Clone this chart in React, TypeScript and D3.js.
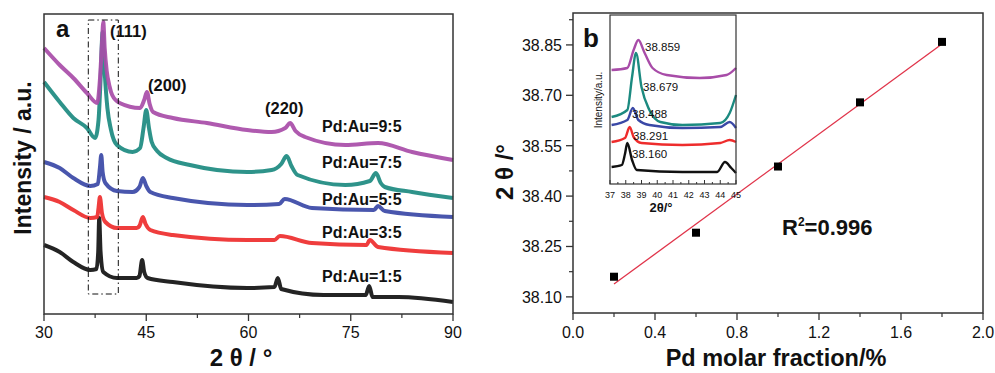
import React from "react";
import * as d3 from "d3";

// panel a: XRD patterns, [2theta, intensity a.u.]
const pd15 = [
  [30, 69], [32.3, 62], [34.3, 52], [36.8, 44], [37.7, 45], [37.95, 62], [38.1, 96], [38.3, 62],
  [38.7, 42], [40.7, 36], [43.6, 36], [44.0, 38], [44.4, 54], [44.7, 42], [45.2, 36], [48.9, 32],
  [59.8, 26], [63.8, 27], [64.3, 36], [64.8, 25], [71.0, 19], [77.2, 19], [77.7, 28], [78.2, 17],
  [82, 17], [90, 12],
];
const pd35 = [
  [30, 117], [32.3, 112], [34.3, 104], [36.8, 96], [37.8, 97], [38.0, 106], [38.2, 117],
  [38.5, 101], [39.0, 92], [40.7, 86], [43.6, 86], [44.0, 88], [44.5, 97], [44.9, 90], [45.6, 84],
  [48.9, 79], [59.8, 74], [63.8, 74], [64.6, 78], [69.3, 71], [77.3, 69], [77.8, 74], [79.0, 67],
  [90, 61],
];
const pd55 = [
  [30, 152], [32.3, 146], [34.3, 136], [36.8, 128], [37.9, 130], [38.2, 146], [38.4, 159],
  [38.6, 142], [39.0, 131], [40.7, 123], [43.0, 122], [44.0, 127], [44.5, 136], [45.0, 128],
  [45.6, 122], [48.9, 116], [59.8, 109], [64.5, 110], [65.3, 115], [69.3, 106], [78.4, 104],
  [79.0, 108], [80.0, 103], [90, 97],
];
const pd75 = [
  [30, 232], [32.3, 212], [34.3, 196], [36.3, 186], [37.5, 176], [38.0, 194], [38.3, 235],
  [38.6, 282], [38.9, 242], [39.3, 206], [39.8, 185], [40.7, 169], [43.0, 162], [44.1, 166],
  [44.6, 186], [45.0, 204], [45.4, 186], [45.8, 172], [46.6, 163], [48.0, 156], [51.4, 149],
  [59.8, 142], [63.4, 144], [64.8, 150], [65.6, 158], [66.3, 148], [67.2, 139], [74.2, 129],
  [77.8, 133], [78.7, 141], [79.4, 131], [80.0, 127], [84.0, 122], [90, 116],
];
const pd95 = [
  [30, 266], [32.3, 249], [34.3, 236], [36.3, 221], [37.8, 211], [38.2, 234], [38.5, 270],
  [38.7, 292], [38.9, 266], [39.2, 243], [39.6, 228], [40.0, 219], [41.1, 211], [44.1, 206],
  [44.7, 214], [45.1, 222], [45.5, 210], [46.0, 202], [48.9, 196], [53.9, 191], [59.8, 184],
  [63.4, 182], [65.4, 186], [66.1, 191], [66.9, 183], [68.3, 177], [74.2, 169], [79.0, 171],
  [84.0, 162], [90, 154],
];
const seriesA = [
  { label: "Pd:Au=1:5", color: "#111111", data: pd15 },
  { label: "Pd:Au=3:5", color: "#ee2c2c", data: pd35 },
  { label: "Pd:Au=5:5", color: "#3a48a6", data: pd55 },
  { label: "Pd:Au=7:5", color: "#1c8a80", data: pd75 },
  { label: "Pd:Au=9:5", color: "#a84ca8", data: pd95 },
];
const labelBaselines = [282, 238, 205, 168, 132];
const ticksA = [30, 45, 60, 75, 90];
const boxTheta = [36.5, 40.9];
const boxIntensity = [20, 294];

// panel b: peak position vs Pd fraction
const fraction = [0.2, 0.6, 1.0, 1.4, 1.8];
const peak111 = [38.16, 38.291, 38.488, 38.679, 38.859];
const ticksBx = [0, 0.4, 0.8, 1.2, 1.6, 2.0];
const ticksBy = [38.1, 38.25, 38.4, 38.55, 38.7, 38.85];

// inset: zoom around (111), [2theta, intensity]
const in15 = [[37.1, 17], [37.75, 19], [37.95, 30], [38.1, 41], [38.4, 24], [38.7, 14], [41.6, 12], [43.8, 12], [44.3, 22], [44.7, 16], [45, 11]];
const in35 = [[37.1, 42], [37.95, 46], [38.25, 57], [38.5, 47], [39.0, 41], [41.6, 39], [44.0, 41], [44.6, 44], [45, 42]];
const in55 = [[37.1, 59], [38.1, 64], [38.45, 76], [38.8, 64], [39.5, 59], [41.6, 56], [44.0, 57], [44.6, 62], [45, 56]];
const in75 = [[37.1, 67], [38.1, 74], [38.4, 107], [38.65, 131], [39.0, 97], [39.5, 74], [40.2, 62], [41.6, 59], [44.0, 61], [44.6, 71], [45, 89]];
const in95 = [[37.1, 114], [38.1, 116], [38.5, 134], [38.8, 144], [39.2, 131], [39.7, 116], [40.6, 109], [42.7, 106], [44.4, 109], [45, 116]];
const insetSeries = [in15, in35, in55, in75, in95];
const insetLabels = ["38.160", "38.291", "38.488", "38.679", "38.859"];
const insetLabelPos = [[632, 158], [633, 140], [632, 118], [643, 91], [645, 51]];
const ticksIn = [37, 38, 39, 40, 41, 42, 43, 44, 45];

const FONT = "'Liberation Sans', Arial, Helvetica, sans-serif";
const AXIS = "#333";

export default function App() {
  const xA = d3.scaleLinear().domain([30, 90]).range([44, 453]);
  const yA = d3.scaleLinear().domain([0, 300]).range([314, 14]);
  const lineA = d3
    .line<number[]>()
    .x((d) => xA(d[0]))
    .y((d) => yA(d[1]))
    .curve(d3.curveMonotoneX);

  const xB = d3.scaleLinear().domain([0, 2]).range([573, 983]);
  const yB = d3.scaleLinear().domain([38.052, 38.945]).range([313, 13]);

  const xI = d3.scaleLinear().domain([37, 45]).range([610, 736]);
  const yI = d3.scaleLinear().domain([0, 169]).range([184, 15]);
  const lineI = d3
    .line<number[]>()
    .x((d) => xI(d[0]))
    .y((d) => yI(d[1]))
    .curve(d3.curveMonotoneX);

  // least squares fit for panel b
  const mx = d3.mean(fraction)!;
  const my = d3.mean(peak111)!;
  const slope =
    d3.sum(fraction, (x, i) => (x - mx) * (peak111[i] - my)) /
    d3.sum(fraction, (x) => (x - mx) ** 2);
  const fit = (x: number) => my + slope * (x - mx);

  const minorA = d3.range(30, 90.1, 7.5).filter((v) => v % 15 !== 0);
  const minorBx = d3.range(0.2, 2, 0.4);
  const minorBy = [38.175, 38.325, 38.475, 38.625, 38.775, 38.925];
  const minorIn = d3.range(37.5, 45, 1);

  return (
    <div style={{ position: "absolute", left: 0, top: 0 }}>
      <svg width={995} height={373} style={{ display: "block", background: "#fff" }} fontFamily={FONT}>
        {/* ---------- panel a ---------- */}
        {seriesA.map((s) => (
          <path
            key={s.label}
            d={lineA(s.data)!}
            fill="none"
            stroke={s.color}
            strokeWidth={4}
            strokeLinejoin="round"
            opacity={0.92}
          />
        ))}
        <rect
          x={xA(boxTheta[0])}
          y={yA(boxIntensity[1])}
          width={xA(boxTheta[1]) - xA(boxTheta[0])}
          height={yA(boxIntensity[0]) - yA(boxIntensity[1])}
          fill="none"
          stroke="#111"
          strokeWidth={1}
          strokeDasharray="6,3,1.5,3"
        />
        <rect x={44} y={14} width={409} height={300} fill="none" stroke={AXIS} strokeWidth={1.5} />
        {ticksA.map((t) => (
          <g key={t}>
            <line x1={xA(t)} x2={xA(t)} y1={314} y2={321} stroke={AXIS} strokeWidth={1.3} />
            <text x={xA(t)} y={338} textAnchor="middle" fontSize={16} fill="#111">{t}</text>
          </g>
        ))}
        {minorA.map((t) => (
          <line key={t} x1={xA(t)} x2={xA(t)} y1={314} y2={318} stroke={AXIS} strokeWidth={1.2} />
        ))}
        <text x={56} y={37} fontSize={24} fontWeight="bold" fill="#111">a</text>
        <text x={110} y={37} fontSize={16.5} fontWeight="bold" fill="#111">(111)</text>
        <text x={148} y={91} fontSize={16.5} fontWeight="bold" fill="#111">(200)</text>
        <text x={265} y={114} fontSize={16.5} fontWeight="bold" fill="#111">(220)</text>
        {seriesA.map((s, i) => (
          <text key={s.label} x={322} y={labelBaselines[i]} fontSize={16} fontWeight="bold" fill="#111">
            {s.label}
          </text>
        ))}
        <text
          transform="translate(31,158) rotate(-90)"
          textAnchor="middle"
          fontSize={23}
          fontWeight="bold"
          fill="#111"
        >
          Intensity / a.u.
        </text>
        <text x={241} y={366} textAnchor="middle" fontSize={24} fontWeight="bold" fill="#111">
          2 θ / °
        </text>

        {/* ---------- panel b ---------- */}
        <path
          d={`M${xB(0.2)},${yB(fit(0.2))}L${xB(1.8)},${yB(fit(1.8))}`}
          stroke="#e0344a"
          strokeWidth={1.3}
          fill="none"
        />
        {fraction.map((f, i) => (
          <rect key={f} x={xB(f) - 4} y={yB(peak111[i]) - 4} width={8} height={8} fill="#000" />
        ))}
        <rect x={573} y={13} width={410} height={300} fill="none" stroke={AXIS} strokeWidth={1.5} />
        {ticksBx.map((t) => (
          <g key={t}>
            <line x1={xB(t)} x2={xB(t)} y1={313} y2={320} stroke={AXIS} strokeWidth={1.3} />
            <text x={xB(t)} y={338} textAnchor="middle" fontSize={16} fill="#111">{t.toFixed(1)}</text>
          </g>
        ))}
        {minorBx.map((t) => (
          <line key={t} x1={xB(t)} x2={xB(t)} y1={313} y2={317} stroke={AXIS} strokeWidth={1.2} />
        ))}
        {ticksBy.map((t) => (
          <g key={t}>
            <line x1={566} x2={573} y1={yB(t)} y2={yB(t)} stroke={AXIS} strokeWidth={1.3} />
            <text x={562} y={yB(t) + 6} textAnchor="end" fontSize={16} fill="#111">{t.toFixed(2)}</text>
          </g>
        ))}
        {minorBy.map((t) => (
          <line key={t} x1={569} x2={573} y1={yB(t)} y2={yB(t)} stroke={AXIS} strokeWidth={1.2} />
        ))}
        <text x={583} y={47} fontSize={26} fontWeight="bold" fill="#111">b</text>
        <text x={782} y={235} fontSize={22} fontWeight="bold" fill="#111">
          R<tspan dy={-9} fontSize={12}>2</tspan><tspan dy={9}>=0.996</tspan>
        </text>
        <text
          transform="translate(513,172) rotate(-90)"
          textAnchor="middle"
          fontSize={24}
          fontWeight="bold"
          fill="#111"
        >
          2 θ /°
        </text>
        <text x={776} y={366} textAnchor="middle" fontSize={23.5} fontWeight="bold" fill="#111">
          Pd molar fraction/%
        </text>

        {/* ---------- inset ---------- */}
        <rect x={610} y={15} width={126} height={169} fill="#fff" />
        {insetSeries.map((d, i) => (
          <path key={i} d={lineI(d)!} fill="none" stroke={seriesA[i].color} strokeWidth={2.4} strokeLinejoin="round" />
        ))}
        <rect x={610} y={15} width={126} height={169} fill="none" stroke={AXIS} strokeWidth={1.2} />
        {ticksIn.map((t) => (
          <g key={t}>
            <line x1={xI(t)} x2={xI(t)} y1={184} y2={180} stroke={AXIS} strokeWidth={1} />
            <text x={xI(t)} y={198} textAnchor="middle" fontSize={9} fill="#111">{t}</text>
          </g>
        ))}
        {minorIn.map((t) => (
          <line key={t} x1={xI(t)} x2={xI(t)} y1={184} y2={182} stroke={AXIS} strokeWidth={1} />
        ))}
        {insetLabels.map((l, i) => (
          <text key={l} x={insetLabelPos[i][0]} y={insetLabelPos[i][1]} fontSize={11.5} fill="#111">{l}</text>
        ))}
        <text
          transform="translate(602,100) rotate(-90)"
          textAnchor="middle"
          fontSize={10}
          fill="#111"
        >
          Intensity/a.u.
        </text>
        <text x={661} y={212} textAnchor="middle" fontSize={13} fontWeight="bold" fill="#111">
          2θ/°
        </text>
      </svg>
    </div>
  );
}
